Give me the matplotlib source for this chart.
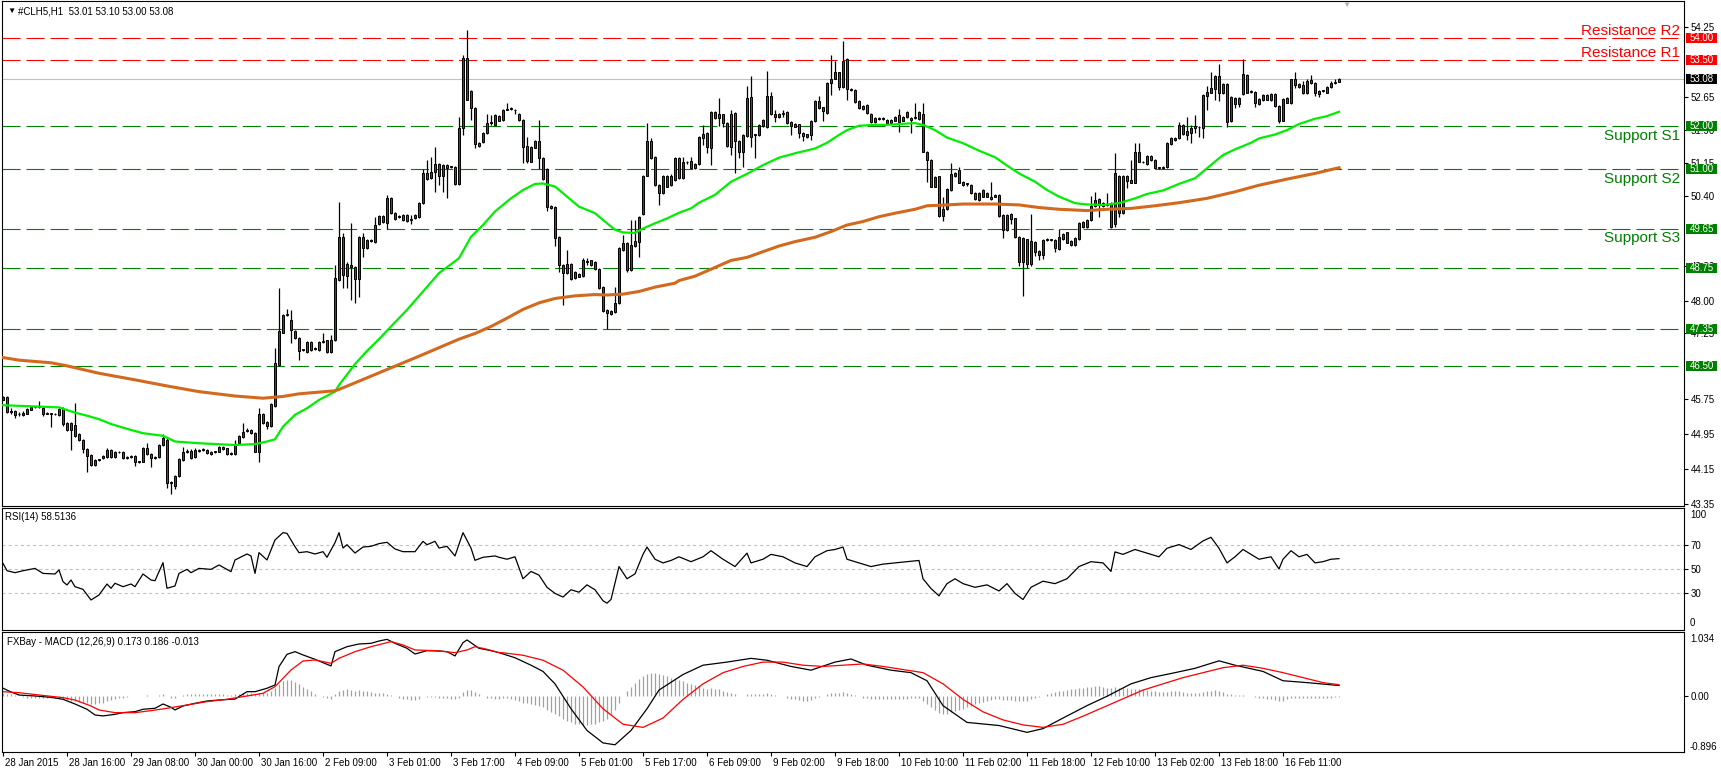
import numpy as np
import matplotlib
matplotlib.use("Agg")
import matplotlib.pyplot as plt
from matplotlib.patches import Rectangle
from matplotlib.transforms import IdentityTransform, ScaledTranslation, blended_transform_factory

plt.rcParams['font.family'] = ['Liberation Sans', 'DejaVu Sans']
plt.rcParams['lines.scale_dashes'] = False

# ---------------- datos: velas H1 de #CLH5 ----------------
symbol = "#CLH5,H1"

opens = [
    45.74, 45.80, 45.46, 45.48, 45.40, 45.38, 45.42, 45.51, 45.56, 45.57,
    45.54, 45.42, 45.42, 45.41, 45.38, 45.52, 45.20, 45.04, 45.16, 44.95,
    44.81, 44.60, 44.47, 44.25, 44.36, 44.40, 44.43, 44.58, 44.42, 44.53,
    44.55, 44.41, 44.43, 44.45, 44.31, 44.32, 44.62, 44.50, 44.41, 44.42,
    44.70, 44.81, 43.84, 43.76, 43.98, 44.36, 44.55, 44.57, 44.42, 44.57,
    44.58, 44.59, 44.55, 44.54, 44.55, 44.66, 44.62, 44.50, 44.50, 44.74,
    44.88, 45.03, 45.04, 44.97, 44.53, 45.40, 45.23, 45.13, 45.59, 46.53,
    47.27, 47.68, 47.56, 47.31, 47.15, 46.87, 46.83, 47.06, 46.90, 46.87,
    47.06, 47.09, 46.83, 47.09, 48.47, 49.45, 48.56, 48.82, 48.78, 48.49,
    49.45, 49.21, 49.37, 49.35, 49.75, 49.94, 49.77, 50.34, 49.87, 49.91,
    49.96, 49.96, 49.85, 49.88, 49.92, 50.23, 50.93, 50.80, 50.95, 51.12,
    50.84, 51.10, 51.06, 51.06, 50.67, 51.94, 53.56, 52.80, 52.40, 51.60,
    51.62, 51.83, 52.06, 52.02, 52.23, 52.13, 52.37, 52.38, 52.37, 52.27,
    52.13, 51.54, 51.18, 51.65, 51.65, 51.26, 51.01, 50.17, 50.14, 49.45,
    48.82, 48.64, 48.85, 48.51, 48.62, 48.56, 48.90, 48.92, 48.88, 48.72,
    48.32, 47.79, 47.70, 47.73, 47.95, 49.16, 49.33, 48.70, 49.37, 49.35,
    49.98, 50.86, 51.64, 51.28, 50.64, 50.46, 50.61, 50.64, 50.76, 51.26,
    50.80, 51.16, 51.19, 51.13, 51.12, 51.73, 51.83, 51.50, 52.31, 52.17,
    52.26, 52.06, 52.27, 52.30, 51.66, 51.39, 51.77, 52.65, 51.79, 51.79,
    52.00, 51.96, 52.68, 52.27, 52.19, 52.28, 52.31, 52.09, 52.04, 52.03,
    51.83, 51.80, 51.79, 52.11, 52.41, 52.42, 52.30, 52.97, 53.08, 53.22,
    52.89, 53.52, 52.83, 52.82, 52.57, 52.45, 52.48, 52.28, 52.09, 52.16,
    52.16, 52.13, 52.06, 52.12, 52.25, 52.12, 52.31, 52.18, 52.18, 52.15,
    52.26, 51.41, 51.22, 50.61, 50.84, 49.94, 50.09, 50.53, 50.85, 50.99,
    50.72, 50.66, 50.64, 50.47, 50.30, 50.38, 50.47, 50.38, 50.38, 50.42,
    49.96, 49.62, 49.98, 49.88, 49.45, 48.89, 49.40, 48.85, 49.35, 49.14,
    49.04, 49.39, 49.39, 49.39, 49.18, 49.41, 49.56, 49.37, 49.27, 49.41,
    49.69, 49.69, 49.85, 50.17, 50.32, 50.17, 50.19, 50.23, 49.75, 50.85,
    50.01, 50.86, 50.76, 50.70, 51.39, 51.17, 51.13, 51.31, 51.22, 51.04,
    51.04, 51.05, 51.58, 51.67, 51.71, 52.02, 51.89, 51.84, 51.94, 51.98,
    51.94, 52.69, 52.76, 52.83, 53.14, 52.74, 52.95, 52.11, 52.64, 52.49,
    52.73, 53.16, 52.78, 52.78, 52.50, 52.59, 52.70, 52.59, 52.73, 52.45,
    52.12, 52.64, 52.51, 53.06, 52.95, 52.93, 52.74, 53.05, 52.97, 52.73,
    52.80, 52.76, 52.89, 52.97, 53.01,
]
highs = [
    45.83, 45.82, 45.54, 45.49, 45.46, 45.47, 45.54, 45.58, 45.60, 45.71,
    45.56, 45.46, 45.44, 45.43, 45.55, 45.56, 45.22, 45.22, 45.67, 44.97,
    44.83, 44.62, 44.49, 44.38, 44.39, 44.47, 44.62, 44.60, 44.56, 44.57,
    44.57, 44.44, 44.47, 44.47, 44.34, 44.65, 44.75, 44.52, 44.44, 44.72,
    44.95, 44.87, 43.88, 44.01, 44.40, 44.65, 44.60, 44.60, 44.62, 44.61,
    44.62, 44.61, 44.57, 44.57, 44.68, 44.68, 44.64, 44.53, 44.81, 44.93,
    45.20, 45.08, 45.06, 44.99, 45.54, 45.43, 45.25, 45.66, 46.91, 48.30,
    47.70, 47.81, 47.78, 47.33, 47.17, 46.90, 47.08, 47.08, 46.93, 47.07,
    47.25, 47.11, 47.22, 48.82, 50.26, 49.54, 48.89, 49.77, 48.80, 49.47,
    49.54, 49.41, 49.42, 49.92, 49.96, 49.96, 50.42, 50.36, 50.02, 49.95,
    49.98, 49.98, 49.96, 49.98, 50.25, 51.00, 51.22, 51.29, 51.52, 51.14,
    51.12, 51.12, 51.08, 51.08, 52.21, 53.62, 54.19, 52.82, 52.42, 51.62,
    51.85, 52.28, 52.25, 52.27, 52.25, 52.38, 52.51, 52.44, 52.38, 52.29,
    52.15, 51.75, 51.54, 51.67, 52.13, 51.28, 51.03, 50.19, 50.16, 49.47,
    48.84, 49.16, 48.87, 48.68, 48.64, 48.97, 48.97, 48.94, 48.90, 48.74,
    48.34, 47.81, 47.79, 48.32, 49.22, 49.50, 49.35, 49.85, 49.85, 49.94,
    50.88, 52.06, 51.71, 51.30, 50.66, 50.87, 50.87, 50.90, 51.28, 51.28,
    51.29, 51.19, 51.29, 51.15, 51.77, 52.02, 51.85, 52.33, 52.33, 52.63,
    52.28, 52.08, 52.35, 52.32, 51.68, 51.81, 52.91, 53.14, 51.82, 52.03,
    52.16, 53.25, 52.78, 52.36, 52.30, 52.36, 52.33, 52.11, 52.06, 52.05,
    51.85, 51.82, 52.13, 52.59, 52.67, 52.44, 52.99, 53.62, 53.47, 53.24,
    53.94, 53.56, 52.86, 52.84, 52.59, 52.47, 52.50, 52.30, 52.20, 52.19,
    52.19, 52.15, 52.15, 52.23, 52.38, 52.23, 52.33, 52.20, 52.51, 52.33,
    52.51, 51.43, 51.24, 50.84, 50.86, 50.38, 50.57, 51.14, 50.95, 51.06,
    50.74, 50.69, 50.66, 50.49, 50.49, 50.55, 50.49, 50.71, 50.44, 50.44,
    49.98, 49.98, 50.00, 49.90, 49.47, 49.45, 49.42, 49.98, 49.37, 49.16,
    49.41, 49.43, 49.42, 49.41, 49.63, 49.54, 49.58, 49.39, 49.45, 49.80,
    49.83, 49.87, 50.39, 50.49, 50.34, 50.26, 50.46, 50.25, 51.37, 50.87,
    50.88, 50.88, 51.22, 51.60, 51.60, 51.19, 51.33, 51.33, 51.24, 51.06,
    51.08, 51.62, 51.75, 51.75, 52.09, 52.04, 52.21, 52.02, 52.25, 52.00,
    52.72, 52.91, 53.24, 53.16, 53.41, 52.97, 52.97, 52.67, 52.66, 52.66,
    53.52, 53.18, 52.82, 52.80, 52.63, 52.72, 52.72, 52.74, 52.75, 52.47,
    52.63, 52.66, 53.08, 53.24, 52.97, 53.03, 53.08, 53.16, 52.99, 52.82,
    52.82, 52.91, 53.03, 53.08, 53.10,
]
lows = [
    45.72, 45.44, 45.42, 45.31, 45.36, 45.36, 45.40, 45.50, 45.54, 45.55,
    45.37, 45.40, 45.12, 45.38, 45.36, 45.14, 45.02, 44.59, 44.89, 44.79,
    44.51, 44.09, 44.21, 44.22, 44.34, 44.38, 44.41, 44.41, 44.40, 44.51,
    44.38, 44.39, 44.41, 44.22, 44.28, 44.30, 44.47, 44.20, 44.39, 44.40,
    44.68, 43.71, 43.58, 43.70, 43.96, 44.34, 44.52, 44.38, 44.40, 44.55,
    44.56, 44.49, 44.47, 44.52, 44.53, 44.58, 44.47, 44.46, 44.48, 44.72,
    44.86, 45.00, 44.95, 44.53, 44.30, 45.19, 45.06, 45.11, 45.57, 46.50,
    47.25, 47.66, 47.03, 47.13, 46.64, 46.85, 46.81, 46.85, 46.88, 46.85,
    47.04, 46.81, 46.81, 47.07, 48.45, 48.28, 48.28, 48.02, 47.94, 48.09,
    48.99, 49.19, 49.34, 49.33, 49.73, 49.77, 49.65, 49.99, 49.85, 49.88,
    49.83, 49.81, 49.75, 49.86, 49.90, 50.21, 50.76, 50.78, 50.49, 50.64,
    50.49, 50.34, 51.03, 50.64, 50.64, 51.79, 52.58, 52.13, 51.48, 51.52,
    51.60, 51.81, 52.02, 52.00, 52.10, 52.11, 52.35, 52.35, 52.28, 52.11,
    51.14, 51.14, 51.16, 51.48, 51.01, 50.76, 50.04, 50.09, 49.24, 48.66,
    47.90, 48.62, 48.47, 48.49, 48.53, 48.54, 48.82, 48.80, 48.70, 48.26,
    47.75, 47.35, 47.68, 47.71, 47.93, 49.14, 48.66, 48.68, 49.22, 49.01,
    49.96, 50.84, 51.24, 50.62, 50.19, 50.44, 50.59, 50.62, 50.74, 50.78,
    50.78, 51.13, 51.02, 51.01, 51.10, 51.56, 51.37, 51.10, 52.16, 52.00,
    51.98, 51.52, 51.33, 50.93, 51.26, 51.06, 51.75, 51.52, 51.26, 51.77,
    51.98, 51.94, 52.25, 52.09, 52.17, 52.21, 52.05, 51.79, 51.96, 51.71,
    51.64, 51.73, 51.67, 52.09, 52.39, 52.11, 52.28, 52.70, 53.06, 52.82,
    52.87, 52.60, 52.79, 52.53, 52.38, 52.36, 52.28, 52.07, 52.07, 52.14,
    52.13, 52.04, 52.04, 52.10, 51.86, 52.10, 52.17, 51.84, 52.16, 52.13,
    51.39, 50.72, 50.59, 50.59, 49.92, 49.83, 50.07, 50.51, 50.83, 50.68,
    50.62, 50.63, 50.44, 50.30, 50.28, 50.36, 50.36, 50.30, 50.36, 49.92,
    49.44, 49.60, 49.75, 49.43, 48.80, 48.10, 48.75, 48.80, 49.02, 48.93,
    48.95, 49.36, 49.36, 49.12, 49.16, 49.39, 49.31, 49.25, 49.25, 49.39,
    49.67, 49.67, 49.83, 50.15, 49.92, 50.15, 50.17, 49.67, 49.69, 49.92,
    49.99, 50.57, 50.68, 50.68, 51.16, 51.14, 51.11, 51.20, 51.01, 51.01,
    51.02, 51.03, 51.56, 51.65, 51.69, 51.79, 51.67, 51.60, 51.83, 51.75,
    51.73, 52.35, 52.74, 52.59, 52.57, 52.72, 51.96, 52.09, 52.40, 52.44,
    52.71, 52.74, 52.76, 52.42, 52.48, 52.57, 52.58, 52.57, 52.44, 52.07,
    52.10, 52.51, 52.49, 52.86, 52.87, 52.72, 52.72, 52.95, 52.67, 52.65,
    52.77, 52.74, 52.87, 52.95, 53.00,
]
closes = [
    45.80, 45.46, 45.47, 45.39, 45.41, 45.44, 45.52, 45.56, 45.57, 45.58,
    45.42, 45.43, 45.41, 45.40, 45.52, 45.18, 45.04, 45.20, 44.91, 44.81,
    44.60, 44.45, 44.24, 44.36, 44.37, 44.45, 44.59, 44.43, 44.53, 44.54,
    44.40, 44.42, 44.45, 44.30, 44.32, 44.62, 44.49, 44.40, 44.42, 44.70,
    44.85, 43.84, 43.85, 43.99, 44.37, 44.55, 44.56, 44.40, 44.59, 44.58,
    44.59, 44.51, 44.49, 44.55, 44.66, 44.60, 44.49, 44.51, 44.70, 44.90,
    45.00, 45.04, 44.97, 44.55, 45.42, 45.21, 45.13, 45.64, 46.57, 47.31,
    47.67, 47.70, 47.33, 47.15, 46.86, 46.88, 47.06, 46.87, 46.91, 47.05,
    47.07, 46.83, 47.09, 48.51, 49.45, 48.59, 48.85, 48.78, 48.49, 49.45,
    49.21, 49.39, 49.38, 49.73, 49.94, 49.79, 50.34, 50.01, 50.00, 49.92,
    49.85, 49.83, 49.86, 49.96, 50.23, 50.91, 50.78, 50.95, 51.12, 50.84,
    51.10, 51.03, 51.05, 50.67, 51.94, 53.56, 52.60, 52.40, 51.58, 51.54,
    51.83, 52.07, 52.07, 52.25, 52.12, 52.36, 52.38, 52.40, 52.35, 52.13,
    51.52, 51.20, 51.52, 51.50, 51.26, 50.78, 50.15, 50.11, 49.43, 48.82,
    48.64, 48.85, 48.49, 48.66, 48.55, 48.92, 48.89, 48.82, 48.72, 48.28,
    47.77, 47.71, 47.77, 47.95, 49.20, 49.33, 48.70, 49.27, 49.24, 49.92,
    50.86, 51.64, 51.26, 50.64, 50.47, 50.85, 50.85, 50.86, 51.26, 50.80,
    51.16, 51.17, 51.04, 51.03, 51.75, 51.80, 51.52, 52.31, 52.18, 52.28,
    52.06, 51.54, 51.52, 51.64, 51.39, 51.79, 52.63, 51.75, 51.80, 52.01,
    52.13, 52.68, 52.27, 52.19, 52.28, 52.29, 52.07, 52.00, 51.98, 51.83,
    51.77, 51.75, 52.11, 52.57, 52.57, 52.34, 52.97, 53.08, 53.22, 52.89,
    53.49, 52.83, 52.82, 52.55, 52.40, 52.38, 52.30, 52.09, 52.18, 52.17,
    52.16, 52.06, 52.13, 52.21, 52.09, 52.21, 52.19, 52.13, 52.19, 52.31,
    51.41, 51.22, 50.61, 50.82, 49.94, 50.09, 50.55, 50.90, 50.93, 50.70,
    50.64, 50.66, 50.46, 50.32, 50.47, 50.53, 50.38, 50.32, 50.42, 49.94,
    49.62, 49.96, 49.86, 49.45, 48.89, 49.43, 48.85, 49.37, 49.12, 49.04,
    49.39, 49.40, 49.39, 49.21, 49.45, 49.52, 49.33, 49.27, 49.43, 49.78,
    49.81, 49.85, 50.17, 50.30, 50.19, 50.24, 50.20, 49.69, 50.91, 50.00,
    50.86, 50.74, 50.70, 51.39, 51.18, 51.16, 51.31, 51.22, 51.03, 51.03,
    51.06, 51.60, 51.73, 51.73, 52.02, 51.81, 51.79, 51.94, 52.00, 51.96,
    52.70, 52.78, 52.86, 53.14, 52.74, 52.95, 52.09, 52.65, 52.49, 52.64,
    53.18, 52.76, 52.80, 52.51, 52.61, 52.70, 52.60, 52.72, 52.46, 52.12,
    52.61, 52.53, 53.06, 52.93, 52.89, 52.74, 53.03, 52.97, 52.74, 52.80,
    52.79, 52.89, 52.97, 53.01, 53.08,
]

ma_fast_bar = [0, 14, 18, 21, 24, 27, 31, 35, 40, 43, 49, 58, 63, 66, 68, 70, 73, 76, 79, 83,
               84, 88, 91, 94, 97, 101, 105, 109, 114, 117, 120, 123, 127, 130, 133, 135, 138, 141, 144, 148,
               151, 153, 155, 158, 160, 163, 166, 169, 172, 174, 178, 182, 186, 190, 194, 198, 203, 206, 209, 211,
               214, 218, 221, 224, 228, 230, 233, 236, 240, 244, 248, 251, 254, 258, 261, 264, 268, 271, 275, 279,
               283, 286, 290, 294, 298, 300, 303, 305, 308, 312, 314, 318, 321, 324, 328, 331, 334]
ma_fast_val = [45.61, 45.56, 45.44, 45.37, 45.29, 45.18, 45.07, 44.97, 44.91, 44.78, 44.74, 44.70, 44.72, 44.78, 44.83, 45.12, 45.39, 45.54, 45.73, 45.92,
               46.07, 46.55, 46.85, 47.12, 47.41, 47.79, 48.21, 48.63, 48.97, 49.46, 49.73, 50.04, 50.34, 50.53, 50.67, 50.68, 50.61, 50.38, 50.15, 50.00,
               49.77, 49.62, 49.56, 49.55, 49.65, 49.77, 49.88, 50.01, 50.11, 50.24, 50.42, 50.72, 50.90, 51.10, 51.27, 51.37, 51.48, 51.61, 51.79, 51.90,
               52.00, 52.02, 52.02, 52.04, 52.06, 52.02, 51.90, 51.73, 51.60, 51.43, 51.28, 51.09, 50.91, 50.72, 50.53, 50.38, 50.23, 50.20, 50.19, 50.23,
               50.34, 50.44, 50.52, 50.67, 50.80, 50.95, 51.18, 51.33, 51.46, 51.61, 51.71, 51.80, 51.90, 52.04, 52.16, 52.22, 52.32]
ma_slow_bar = [0, 4, 12, 16, 24, 33, 41, 49, 58, 65, 70, 74, 83, 84, 94, 104, 114, 118, 122, 126,
               130, 134, 138, 143, 148, 151, 155, 159, 163, 168, 169, 173, 178, 182, 186, 190, 194, 198, 203, 207,
               211, 215, 219, 223, 228, 231, 236, 240, 248, 254, 259, 264, 271, 276, 282, 288, 294, 301, 308, 314,
               321, 328, 334]
ma_slow_val = [46.70, 46.64, 46.58, 46.51, 46.34, 46.19, 46.05, 45.92, 45.82, 45.77, 45.81, 45.87, 45.94, 45.97, 46.35, 46.73, 47.12, 47.25, 47.41, 47.60,
               47.80, 47.95, 48.05, 48.11, 48.14, 48.13, 48.15, 48.21, 48.31, 48.40, 48.46, 48.56, 48.76, 48.92, 48.99, 49.12, 49.25, 49.35, 49.45, 49.58,
               49.73, 49.81, 49.92, 50.00, 50.09, 50.17, 50.19, 50.21, 50.21, 50.19, 50.13, 50.09, 50.06, 50.09, 50.11, 50.17, 50.24, 50.34, 50.49, 50.64,
               50.78, 50.91, 51.04]

# niveles de soporte y resistencia
resist_names = ["Resistance R2", "Resistance R1"]
resist_levels = [54.00, 53.50]
support_names = ["Support S1", "Support S2", "Support S3"]
support_levels = [52.00, 51.00, 49.65, 48.75, 47.35, 46.50]
last_price = 53.08
# escala de precios visible (las que quedan tapadas por las cajas no se muestran)
price_ticks = [54.25, 52.65, 51.90, 51.15, 50.40, 48.80, 48.00, 47.25, 45.75, 44.95, 44.15, 43.35]

# RSI(14)
rsi_now = 58.5136
rsi_bar = [0, 1, 3, 5, 8, 10, 13, 14, 15, 16, 17, 18, 20, 22, 24, 26, 27, 28, 30, 32,
           33, 35, 37, 38, 40, 41, 43, 44, 46, 47, 49, 52, 54, 57, 58, 61, 62, 63, 64, 66,
           68, 70, 71, 73, 74, 76, 78, 80, 81, 83, 84, 85, 86, 88, 90, 92, 94, 96, 98, 100,
           103, 105, 106, 108, 109, 111, 113, 115, 117, 118, 120, 123, 124,
           126, 128, 130, 132, 134, 136, 138, 140, 142, 144, 146, 148, 150, 151, 152, 154, 156, 158, 160, 161,
           163, 165, 167, 169, 172, 175, 177, 180, 183, 186, 187, 190, 192, 195, 198, 201, 203, 206, 208, 210,
           211, 214, 217, 220, 223, 226, 229, 230, 232, 234, 236, 238, 240, 243, 246, 249, 251, 253, 255, 257,
           260, 263, 266, 269, 272, 275, 277, 278, 280, 283, 286, 289, 291, 294, 297, 300, 302, 304, 306, 308,
           310, 312, 314, 317, 319, 320, 322, 324, 326, 328, 330, 332, 334]
rsi_val = [54.6, 48.6, 47.0, 48.6, 50.5, 46.4, 45.9, 49.2, 39.6, 36.9, 41.0, 35.5, 33.3, 24.6, 28.7, 37.7, 34.2, 38.3, 35.5, 37.7,
           35.5, 45.9, 41.0, 40.4, 55.2, 34.2, 36.1, 46.4, 49.7, 47.0, 50.5, 49.7, 53.3, 47.8, 57.4, 62.3, 60.7, 46.4, 63.4, 57.4,
           73.8, 79.8, 79.2, 68.3, 63.4, 64.2, 62.3, 64.2, 59.6, 71.6, 79.8, 67.2, 69.9, 63.1, 68.0, 68.6, 70.8, 71.9, 66.4, 64.2,
           64.2, 72.7, 69.9, 72.7, 67.2, 68.6, 60.7, 79.8, 67.2, 57.1, 59.6, 60.7, 59.6,
           58, 60, 42, 48, 45, 35, 30, 27, 33, 31, 37, 33, 24, 22, 25, 52, 42, 46, 62, 68,
           58, 55, 57, 60, 56, 60, 65, 58, 52, 63, 55, 58, 62, 60, 55, 52, 60, 65, 66, 68,
           58, 55, 52, 54, 55, 56, 57, 42, 34, 28, 38, 42, 38, 35, 37, 32, 38, 30, 25, 35,
           40, 38, 42, 52, 56, 55, 48, 64, 62, 66, 63, 60, 67, 70, 66, 73, 76, 67, 55, 60,
           66, 62, 58, 60, 50, 58, 65, 60, 62, 55, 56, 58, 58.5]

# MACD (12,26,9)
macd_now = (0.173, 0.186, -0.013)
macd_bar = [0, 2, 4, 8, 12, 15, 18, 21, 23, 25, 28, 30, 33, 35, 38, 40, 42, 43, 45, 48,
            51, 54, 58, 61, 63, 66, 68, 69, 71, 73, 75, 78, 80, 82, 83, 86, 89, 92, 94, 96,
            98, 101, 103, 106, 109, 111, 113, 115, 116, 119, 122, 124,
            128, 132, 135, 138, 142, 146, 150, 153, 157, 161, 164, 170, 175, 181, 187, 191, 197, 202,
            208, 212, 216, 222, 227, 231, 235, 241, 249, 256, 260, 265, 271, 276, 282, 287, 293, 298,
            304, 308, 315, 320, 326, 334]
macd_val = [0.13, 0.07, 0.02, 0.005, -0.017, -0.048, -0.124, -0.209, -0.30, -0.316, -0.29, -0.263, -0.247, -0.209, -0.193, -0.124, -0.177, -0.22, -0.156, -0.113,
            -0.076, -0.06, -0.044, 0.074, 0.074, 0.129, 0.182, 0.477, 0.675, 0.718, 0.665, 0.595, 0.541, 0.488, 0.718, 0.798, 0.841, 0.852, 0.889, 0.916,
            0.852, 0.772, 0.68, 0.734, 0.729, 0.718, 0.649, 0.863, 0.906, 0.772, 0.734, 0.702,
            0.62, 0.50, 0.40, 0.20, -0.2, -0.55, -0.75, -0.78, -0.55, -0.2, 0.1, 0.35, 0.5, 0.55, 0.61, 0.58, 0.48, 0.42,
            0.55, 0.6, 0.5, 0.42, 0.38, 0.25, -0.15, -0.42, -0.47, -0.58, -0.52, -0.35, -0.15, 0.0, 0.2, 0.3, 0.38, 0.45,
            0.57, 0.5, 0.4, 0.25, 0.22, 0.173]
signal_bar = [0, 4, 9, 15, 18, 22, 24, 28, 33, 37, 41, 46, 51, 56, 61, 65, 68, 72, 75, 78,
              82, 84, 88, 92, 97, 100, 103, 108, 113, 116, 118, 121, 124,
              125, 130, 135, 140, 145, 150, 155, 160, 165, 170, 175, 180, 185, 190, 195, 200, 205, 210,
              215, 220, 225, 230, 235, 240, 245, 250, 255, 260, 265, 270, 275, 280, 285, 290, 295, 300,
              305, 310, 315, 320, 325, 330, 334]
signal_val = [0.074, 0.058, 0.021, -0.022, -0.06, -0.156, -0.22, -0.263, -0.263, -0.231, -0.193, -0.14, -0.086, -0.048, 0.005, 0.048, 0.155, 0.423, 0.568, 0.584,
              0.531, 0.611, 0.718, 0.798, 0.879, 0.825, 0.745, 0.734, 0.702, 0.745, 0.798, 0.756, 0.702,
              0.70, 0.66, 0.58, 0.42, 0.15, -0.2, -0.45, -0.5, -0.35, -0.05, 0.2, 0.38, 0.48, 0.55, 0.55, 0.5, 0.48, 0.5,
              0.52, 0.48, 0.43, 0.38, 0.2, -0.05, -0.25, -0.38, -0.46, -0.5, -0.45, -0.32, -0.18, -0.04, 0.1, 0.2, 0.3, 0.38,
              0.46, 0.5, 0.45, 0.38, 0.3, 0.22, 0.186]
hist = [
    0.05, 0.04, 0.03, 0.02, 0.01, -0.01, -0.02, -0.02, -0.02, -0.02,
    -0.02, -0.02, -0.02, -0.03, -0.03, -0.05, -0.06, -0.07, -0.08, -0.09,
    -0.10, -0.11, -0.12, -0.12, -0.11, -0.10, -0.08, -0.06, -0.04, -0.03,
    -0.02, -0.01, 0.00, 0.01, 0.00, 0.01, 0.02, 0.01, 0.01, 0.02,
    0.04, 0.01, -0.02, -0.02, 0.00, 0.02, 0.03, 0.03, 0.03, 0.03,
    0.03, 0.03, 0.03, 0.03, 0.03, 0.03, 0.02, 0.02, 0.03, 0.04,
    0.05, 0.06, 0.06, 0.04, 0.06, 0.06, 0.06, 0.08, 0.13, 0.20,
    0.25, 0.27, 0.26, 0.23, 0.19, 0.15, 0.11, 0.08, 0.04, 0.01,
    -0.01, -0.03, -0.04, 0.03, 0.09, 0.10, 0.11, 0.10, 0.09, 0.10,
    0.09, 0.08, 0.07, 0.06, 0.05, 0.05, 0.04, 0.02, 0.00, -0.02,
    -0.04, -0.05, -0.06, -0.06, -0.04, 0.00, -0.01, -0.01, -0.01, -0.02,
    -0.02, -0.03, -0.04, -0.05, -0.02, 0.07, 0.10, 0.10, 0.07, 0.03,
    0.00, -0.02, -0.03, -0.04, -0.05, -0.02, -0.03, -0.05, -0.06, -0.08,
    -0.10, -0.11, -0.13, -0.14, -0.16, -0.18, -0.22, -0.25, -0.28, -0.32,
    -0.36, -0.40, -0.42, -0.44, -0.45, -0.46, -0.46, -0.45, -0.44, -0.42,
    -0.40, -0.36, -0.30, -0.22, -0.10, 0.00, 0.08, 0.15, 0.22, 0.28,
    0.33, 0.36, 0.37, 0.37, 0.36, 0.34, 0.32, 0.30, 0.28, 0.26,
    0.24, 0.22, 0.20, 0.18, 0.16, 0.14, 0.12, 0.14, 0.12, 0.11,
    0.09, 0.07, 0.05, 0.03, 0.01, 0.01, 0.04, 0.04, 0.03, 0.03,
    0.03, 0.05, 0.04, 0.02, 0.01, 0.00, -0.02, -0.04, -0.05, -0.06,
    -0.07, -0.07, -0.06, -0.03, -0.01, 0.00, 0.03, 0.05, 0.06, 0.05,
    0.07, 0.06, 0.04, 0.02, 0.00, -0.02, -0.03, -0.04, -0.05, -0.05,
    -0.05, -0.05, -0.05, -0.04, -0.04, -0.04, -0.04, -0.03, -0.03, -0.03,
    -0.08, -0.12, -0.18, -0.22, -0.27, -0.28, -0.28, -0.26, -0.24, -0.22,
    -0.20, -0.17, -0.15, -0.13, -0.11, -0.09, -0.08, -0.06, -0.05, -0.05,
    -0.06, -0.06, -0.06, -0.07, -0.08, -0.08, -0.07, -0.05, -0.03, -0.01,
    0.01, 0.03, 0.05, 0.07, 0.08, 0.09, 0.10, 0.11, 0.12, 0.13,
    0.14, 0.15, 0.15, 0.16, 0.16, 0.15, 0.14, 0.13, 0.15, 0.14,
    0.13, 0.13, 0.12, 0.12, 0.12, 0.11, 0.10, 0.09, 0.08, 0.07,
    0.07, 0.07, 0.08, 0.08, 0.08, 0.07, 0.06, 0.05, 0.05, 0.05,
    0.07, 0.08, 0.09, 0.10, 0.09, 0.07, 0.04, 0.03, 0.02, 0.02,
    0.02, 0.01, 0.00, -0.01, -0.02, -0.03, -0.04, -0.05, -0.06, -0.07,
    -0.07, -0.05, -0.03, -0.03, -0.03, -0.03, -0.03, -0.02, -0.02, -0.02,
    -0.02, -0.02, -0.02, -0.01, -0.013,
]

tick_bars = [0, 16, 32, 48, 64, 80, 96, 112, 128, 144, 160, 176, 192, 208, 224, 240, 256, 272, 288, 304, 320]
tick_labels = ["28 Jan 2015", "28 Jan 16:00", "29 Jan 08:00", "30 Jan 00:00", "30 Jan 16:00", "2 Feb 09:00",
               "3 Feb 01:00", "3 Feb 17:00", "4 Feb 09:00", "5 Feb 01:00", "5 Feb 17:00", "6 Feb 09:00",
               "9 Feb 02:00", "9 Feb 18:00", "10 Feb 10:00", "11 Feb 02:00", "11 Feb 18:00", "12 Feb 10:00",
               "13 Feb 02:00", "13 Feb 18:00", "16 Feb 11:00"]

# ---------------- figura ----------------
W, H = 1721, 771
fig = plt.figure(figsize=(W / 100, H / 100), dpi=100)


def panel(top, bottom):
    return fig.add_axes([2 / W, 1 - bottom / H, 1682 / W, (bottom - top) / H])


def ftext(xp, yp, s, **kw):
    kw.setdefault('fontsize', 7)
    kw.setdefault('va', 'center')
    return fig.text(xp / W, 1 - yp / H, s, **kw)


ax = panel(0.5, 506)
ax_rsi = panel(508, 630)
ax_macd = panel(632, 752)

x = np.arange(len(closes))
for a in (ax, ax_rsi, ax_macd):
    a.set_xlim(-0.25, 420.25)
    for s in a.spines.values():
        s.set_linewidth(0.8)
        s.set_color('black')
    a.yaxis.tick_right()
    a.tick_params(axis='y', direction='out', length=3, width=0.8, pad=2, labelsize=7)
    a.tick_params(axis='x', bottom=False, labelbottom=False)

# velas
o, h, l, c = map(np.array, (opens, highs, lows, closes))
up = c >= o
ax.vlines(x, l, h, color='black', lw=0.9, zorder=3)
cuerpo_bajo = np.minimum(o, c)
cuerpo_alto = np.maximum(np.abs(c - o), 0.02)
ax.bar(x[up], cuerpo_alto[up], bottom=cuerpo_bajo[up], width=0.55, color='#007800',
       edgecolor='black', linewidth=0.7, zorder=4)
ax.bar(x[~up], cuerpo_alto[~up], bottom=cuerpo_bajo[~up], width=0.55, color='#ff0000',
       edgecolor='black', linewidth=0.7, zorder=4)

ax.plot(ma_fast_bar, ma_fast_val, color='#00ee00', lw=1.6, zorder=5)
ax.plot(ma_slow_bar, ma_slow_val, color='#d2691e', lw=2.2, zorder=5)

guion = (0, (13, 4.3))
for lv in resist_levels:
    ax.axhline(lv, color='#ff0000', lw=0.8, ls=guion, zorder=2)
for lv in support_levels:
    ax.axhline(lv, color='#008000', lw=0.8, ls=guion, zorder=2)
ax.axhline(last_price, color='#c0c0c0', lw=0.8, zorder=1)

ax.set_ylim(43.305, 54.864)
ax.set_yticks(price_ticks)
ax.set_yticklabels([f"{t:.2f}" for t in price_ticks])

tr = blended_transform_factory(ax.transAxes, ax.transData)
for name, lv in zip(resist_names, resist_levels):
    ax.annotate(name, xy=(0.9976, lv), xycoords=tr, xytext=(0, 2.2), textcoords='offset points',
                ha='right', va='baseline', color='#ff0000', fontsize=11)
for name, lv in zip(support_names, support_levels):
    ax.annotate(name, xy=(0.9976, lv), xycoords=tr, xytext=(0, -2.0), textcoords='offset points',
                ha='right', va='top', color='#008000', fontsize=11)


def price_box(val, fc):
    yd = ax.transData.transform((0, val))[1]
    fig.add_artist(Rectangle((1686, yd - 5), 31, 10, transform=IdentityTransform(),
                             facecolor=fc, edgecolor='none', zorder=10))
    fig.text(1701.5 / W, yd / H, f"{val:.2f}", ha='center', va='center', color='white',
             fontsize=7, zorder=11)


for lv in resist_levels:
    price_box(lv, '#ff0000')
for lv in support_levels:
    price_box(lv, '#008000')
price_box(last_price, 'black')

ftext(7, 11, '\u25bc', fontsize=6)
ftext(18, 11, f"{symbol}  {opens[-1]:.2f} {highs[-1]:.2f} {lows[-1]:.2f} {closes[-1]:.2f}")
ftext(1342, 5, '\u25bc', fontsize=6, color='#b0b0b0')

# RSI
ax_rsi.set_ylim(0, 100)
for lv in (30, 50, 70):
    ax_rsi.axhline(lv, color='#c0c0c0', lw=0.8, ls=(0, (2.2, 2.2)))
ax_rsi.plot(rsi_bar, rsi_val, color='black', lw=0.9)
ax_rsi.set_yticks([30, 50, 70])
ax_rsi.set_yticklabels(['30', '50', '70'])
ftext(5, 517, f"RSI(14) {rsi_now}")
ftext(1690, 515, '100')
ftext(1690, 623, '0')

# MACD
ax_macd.set_ylim(-0.896, 1.034)
ax_macd.vlines(x, 0, hist, color='#a0a0a0', lw=0.9)
ax_macd.plot(macd_bar, macd_val, color='black', lw=0.9)
ax_macd.plot(signal_bar, signal_val, color='#ff0000', lw=0.9)
ax_macd.set_yticks([0])
ax_macd.set_yticklabels(['0.00'])
ftext(7, 642, "FXBay - MACD (12,26,9) %.3f %.3f %.3f" % macd_now)
ftext(1690, 639, '1.034')
ftext(1690, 747, '-0.896')

ax_macd.tick_params(axis='x', bottom=True, labelbottom=True, direction='out', length=3,
                    width=0.8, pad=1.5, labelsize=7)
ax_macd.set_xticks(tick_bars)
ax_macd.set_xticklabels(tick_labels, ha='left')
desplaza = ScaledTranslation(2 / 100, 0, fig.dpi_scale_trans)
for t in ax_macd.get_xticklabels():
    t.set_transform(t.get_transform() + desplaza)

fig.savefig('out.png', dpi=100)
